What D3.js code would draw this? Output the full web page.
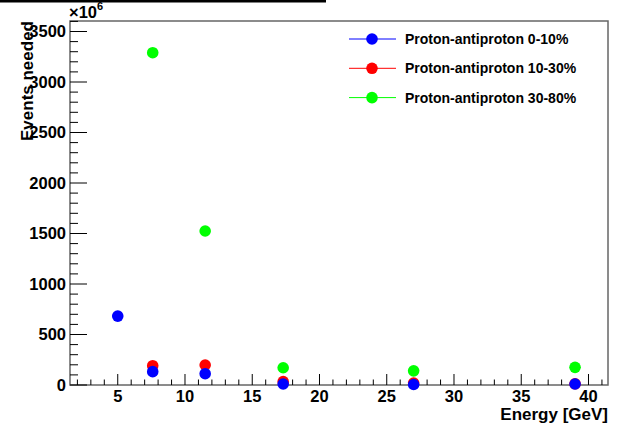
<!DOCTYPE html>
<html>
<head>
<meta charset="utf-8">
<script src="https://cdn.jsdelivr.net/npm/d3@7"></script>
<style>
  body { margin: 0; background: #fff; }
  svg { display: block; font-family: "Liberation Sans", Arial, sans-serif; font-weight: bold; }
</style>
</head>
<body>
<div id="chart"></div>
<script>
// Energies (GeV) and events needed (x10^6) for each centrality class
const energies0_10 = [5, 7.6, 11.5, 17.3, 27, 39];
const events0_10 = [682, 132, 112, 10, 5, 10];
const energies10_30 = [7.6, 11.5, 17.3, 27, 39];
const events10_30 = [191, 198, 33, 20, 12];
const energies30_80 = [7.6, 11.5, 17.3, 27, 39];
const events30_80 = [3290, 1525, 171, 140, 175];

const seriesNames = ['Proton-antiproton 0-10%', 'Proton-antiproton 10-30%', 'Proton-antiproton 30-80%'];
const seriesColors = ['#0000ff', '#ff0000', '#00ff00'];

const xTicks = [5, 10, 15, 20, 25, 30, 35, 40];
const yTicks = [0, 500, 1000, 1500, 2000, 2500, 3000, 3500];

const width = 628, height = 428;
const margin = { top: 21, right: 20, bottom: 43, left: 70 };

const svg = d3.select('#chart').append('svg')
  .attr('width', width)
  .attr('height', height);

// Leftover title box edge at the very top
svg.append('rect')
  .attr('x', 0).attr('y', 0)
  .attr('width', 326).attr('height', 2.5)
  .attr('fill', '#000');

const x = d3.scaleLinear().domain([1.45, 41.45]).range([margin.left, width - margin.right]);
const y = d3.scaleLinear().domain([0, 3604]).range([height - margin.bottom, margin.top]);

// Frame
svg.append('rect')
  .attr('x', x.range()[0]).attr('y', y.range()[1])
  .attr('width', x.range()[1] - x.range()[0])
  .attr('height', y.range()[0] - y.range()[1])
  .attr('fill', 'none')
  .attr('stroke', '#666')
  .attr('stroke-width', 1.5);

// X axis ticks
const xAxisG = svg.append('g');
const xMinor = d3.range(2, 42, 1);
xAxisG.selectAll('line.minor').data(xMinor).enter().append('line')
  .attr('x1', d => x(d)).attr('x2', d => x(d))
  .attr('y1', y(0)).attr('y2', d => y(0) - (d % 5 === 0 ? 11 : 5.5))
  .attr('stroke', '#000').attr('stroke-width', 1);
xAxisG.selectAll('text').data(xTicks).enter().append('text')
  .attr('x', d => x(d)).attr('y', y(0) + 17)
  .attr('text-anchor', 'middle')
  .attr('font-size', 16.5)
  .text(d => d);

// Y axis ticks
const yAxisG = svg.append('g');
const yMinor = d3.range(0, 3601, 100);
yAxisG.selectAll('line').data(yMinor).enter().append('line')
  .attr('x1', x.range()[0]).attr('x2', d => x.range()[0] + (d % 500 === 0 ? 17 : 8))
  .attr('y1', d => y(d)).attr('y2', d => y(d))
  .attr('stroke', '#000').attr('stroke-width', 1);
yAxisG.selectAll('text').data(yTicks).enter().append('text')
  .attr('x', 66).attr('y', d => y(d))
  .attr('dy', '0.36em')
  .attr('text-anchor', 'end')
  .attr('font-size', 16.5)
  .text(d => d);

// Exponent label
const expo = svg.append('text').attr('x', 69).attr('y', 18).attr('font-size', 16.5);
expo.append('tspan').text('\u00d710');
expo.append('tspan').attr('font-size', 11).attr('dy', -8).text('6');

// Axis titles
svg.append('text')
  .attr('x', x.range()[1]).attr('y', 420)
  .attr('text-anchor', 'end')
  .attr('font-size', 17)
  .text('Energy [GeV]');

svg.append('text')
  .attr('transform', `translate(33, ${margin.top}) rotate(-90)`)
  .attr('text-anchor', 'end')
  .attr('font-size', 17)
  .text('Events needed');

// Data points (drawn so 0-10% ends up on top)
const series = [
  { xs: energies0_10, ys: events0_10, color: seriesColors[0] },
  { xs: energies10_30, ys: events10_30, color: seriesColors[1] },
  { xs: energies30_80, ys: events30_80, color: seriesColors[2] }
];
series.slice().reverse().forEach(s => {
  svg.append('g').selectAll('circle')
    .data(s.xs.map((e, i) => [e, s.ys[i]]))
    .enter().append('circle')
    .attr('cx', d => x(d[0]))
    .attr('cy', d => y(d[1]))
    .attr('r', 5.8)
    .attr('fill', s.color);
});

// Legend
const legend = svg.append('g');
seriesNames.forEach((name, i) => {
  const ly = 39 + i * 29.3;
  legend.append('line')
    .attr('x1', 349).attr('x2', 396)
    .attr('y1', ly).attr('y2', ly)
    .attr('stroke', seriesColors[i]).attr('stroke-width', 1);
  legend.append('circle')
    .attr('cx', 372).attr('cy', ly).attr('r', 5.8)
    .attr('fill', seriesColors[i]);
  legend.append('text')
    .attr('x', 405).attr('y', ly)
    .attr('dy', '0.36em')
    .attr('font-size', 14)
    .text(name);
});
</script>
</body>
</html>
